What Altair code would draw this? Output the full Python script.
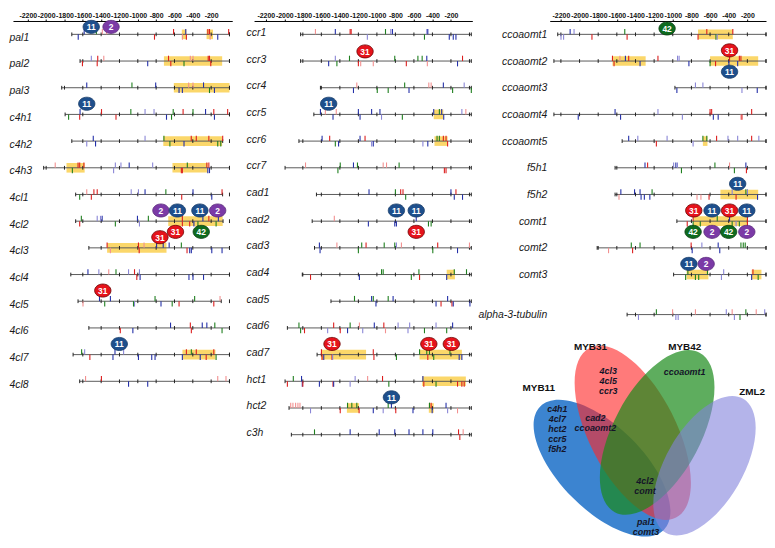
import altair as alt
import pandas as pd

# ---------------- data ----------------
AXIS_VALUES = [-2200, -2000, -1800, -1600, -1400, -1200, -1000, -800, -600, -400, -200]

GENES_1 = ["pal1", "pal2", "pal3", "c4h1", "c4h2", "c4h3", "4cl1", "4cl2", "4cl3", "4cl4", "4cl5", "4cl6", "4cl7", "4cl8"]
ROWS_1 = [0, 1, 2, 3, 4, 5, 6, 7, 8, 9, 10, 11, 12, 13]
STARTS_1 = [-1720, -1630, -1830, -1793, -1720, -2027, -1678, -1678, -1534, -1731, -1652, -1534, -1706, -1634]
ENDS_1 = [0, 0, 0, 0, -74, 0, -75, -70, 0, 0, -90, 0, 0, 0]

GENES_2 = ["ccr1", "ccr3", "ccr4", "ccr5", "ccr6", "ccr7", "cad1", "cad2", "cad3", "cad4", "cad5", "cad6", "cad7", "hct1", "hct2", "c3h"]
ROWS_2 = [0, 1, 2, 3, 4, 5, 6, 7, 8, 9, 10, 11, 12, 13, 14, 15]
STARTS_2 = [-1824, -1824, -1610, -1681, -1842, -1992, -1653, -1699, -1674, -1806, -1496, -1967, -1646, -1992, -1949, -1924]
ENDS_2 = [20, 20, 20, 20, 20, 20, 20, 20, 20, 20, 20, 20, 20, 20, 20, 20]

GENES_3 = ["ccoaomt1", "ccoaomt2", "ccoaomt3", "ccoaomt4", "ccoaomt5", "f5h1", "f5h2", "comt1", "comt2", "comt3", "alpha-3-tubulin"]
ROWS_3 = [0, 1, 2, 3, 4, 5, 6, 7, 8, 9, 10.5]
STARTS_3 = [-2234, -2275, -977, -2275, -1543, -1619, -1619, -956, -1811, -991, -1490]
ENDS_3 = [0, 0, 0, 0, 0, 0, 0, 0, 0, 0, 0]

# highlighted (yellow) regions: gene, from, to
BOXES_1 = [("pal1", -520, -470), ("pal1", -250, -180), ("pal2", -715, -80), ("pal3", -607, 0),
           ("c4h2", -722, -80), ("c4h3", -1778, -1580), ("c4h3", -622, -236), ("4cl2", -668, -74),
           ("4cl3", -1335, -687), ("4cl7", -513, -153)]
BOXES_2 = [("ccr5", -386, -282), ("ccr6", -378, -236), ("cad4", -246, -157), ("cad7", -1603, -1117),
           ("cad7", -539, -82), ("hct1", -511, -39), ("hct2", -1324, -1192), ("hct2", -439, -386)]
BOXES_3 = [("ccoaomt1", -729, -356), ("ccoaomt2", -1647, -1291), ("ccoaomt2", -600, -84),
           ("ccoaomt5", -677, -628), ("f5h2", -489, -84), ("comt1", -782, -199),
           ("comt3", -852, -618), ("comt3", -154, -49)]

# binding-site badges: gene, position, factor, offset (negative = above)
BADGES_1 = [("pal1", -1508, "11", -0.28), ("pal1", -1292, "2", -0.28), ("c4h1", -1557, "11", -0.4),
            ("4cl2", -748, "2", -0.4), ("4cl2", -568, "11", -0.4), ("4cl2", -323, "11", -0.4),
            ("4cl2", -129, "2", -0.4), ("4cl2", -589, "31", 0.4), ("4cl2", -308, "42", 0.4),
            ("4cl3", -759, "31", -0.4), ("4cl5", -1382, "31", -0.4), ("4cl7", -1202, "11", -0.4)]
BADGES_2 = [("ccr3", -1128, "31", -0.36), ("ccr5", -1521, "11", -0.4), ("cad2", -789, "11", -0.4),
            ("cad2", -575, "11", -0.4), ("cad2", -575, "31", 0.4), ("cad7", -1485, "31", -0.4),
            ("cad7", -439, "31", -0.4), ("cad7", -196, "31", -0.4), ("hct2", -843, "11", -0.4)]
BADGES_3 = [("ccoaomt1", -1061, "42", -0.22), ("ccoaomt2", -391, "31", -0.4), ("ccoaomt2", -391, "11", 0.4),
            ("f5h2", -304, "11", -0.4), ("comt1", -775, "31", -0.4), ("comt1", -579, "11", -0.4),
            ("comt1", -391, "31", -0.4), ("comt1", -206, "11", -0.4), ("comt1", -782, "42", 0.4),
            ("comt1", -579, "2", 0.4), ("comt1", -401, "42", 0.4), ("comt1", -206, "2", 0.4),
            ("comt3", -827, "11", -0.4), ("comt3", -642, "2", -0.4)]

# cis-element marks: gene, position, colour code, up/down
MOTIFS_1 = [
    ("pal1", -1650, "b", "d"), ("pal1", -1585, "b", "u"), ("pal1", -1452, "g", "u"), ("pal1", -1387, "k", "u"),
    ("pal1", -1340, "k", "u"), ("pal1", -818, "r", "d"), ("pal1", -610, "r", "u"), ("pal1", -513, "k", "d"),
    ("pal1", -477, "b", "u"), ("pal1", -470, "r", "d"), ("pal1", -236, "r", "u"), ("pal1", -218, "r", "u"),
    ("pal1", -211, "k", "d"), ("pal1", -128, "b", "d"), ("pal1", -9, "r", "u"),
    ("pal2", -1604, "r", "d"), ("pal2", -1507, "p", "u"), ("pal2", -1443, "r", "d"), ("pal2", -1437, "r", "u"),
    ("pal2", -1371, "k", "u"), ("pal2", -892, "b", "d"), ("pal2", -665, "r", "u"), ("pal2", -640, "r", "d"),
    ("pal2", -496, "g", "d"), ("pal2", -427, "k", "u"), ("pal2", -398, "k", "u"), ("pal2", -232, "r", "u"),
    ("pal2", -218, "r", "u"), ("pal2", -204, "r", "d"),
    ("pal3", -1557, "b", "u"), ("pal3", -1064, "g", "u"), ("pal3", -805, "b", "u"), ("pal3", -550, "b", "d"),
    ("pal3", -514, "b", "d"), ("pal3", -445, "k", "u"), ("pal3", -398, "k", "u"), ("pal3", -283, "b", "u"),
    ("pal3", -218, "g", "d"), ("pal3", -164, "b", "d"),
    ("c4h1", -1755, "g", "d"), ("c4h1", -1634, "r", "d"), ("c4h1", -1630, "b", "u"), ("c4h1", -1396, "r", "u"),
    ("c4h1", -1238, "r", "d"), ("c4h1", -1076, "g", "u"), ("c4h1", -921, "p", "u"), ("c4h1", -823, "p", "u"),
    ("c4h1", -687, "b", "d"), ("c4h1", -632, "g", "d"), ("c4h1", -614, "g", "u"), ("c4h1", -506, "r", "u"),
    ("c4h1", -398, "g", "u"), ("c4h1", -261, "b", "u"), ("c4h1", -171, "r", "u"), ("c4h1", -164, "b", "d"),
    ("c4h1", -20, "r", "u"),
    ("c4h2", -1557, "p", "d"), ("c4h2", -1486, "b", "u"), ("c4h2", -1461, "b", "d"), ("c4h2", -921, "p", "u"),
    ("c4h2", -715, "g", "u"), ("c4h2", -650, "g", "d"), ("c4h2", -496, "b", "d"), ("c4h2", -417, "r", "u"),
    ("c4h2", -362, "r", "u"), ("c4h2", -225, "r", "u"), ("c4h2", -128, "g", "d"), ("c4h2", -95, "g", "d"),
    ("c4h2", -74, "r", "u"),
    ("c4h3", -1901, "k", "u"), ("c4h3", -1714, "g", "d"), ("c4h3", -1652, "r", "u"), ("c4h3", -1634, "r", "u"),
    ("c4h3", -1588, "r", "u"), ("c4h3", -1264, "p", "d"), ("c4h3", -1245, "p", "u"), ("c4h3", -1184, "p", "u"),
    ("c4h3", -1094, "b", "u"), ("c4h3", -838, "p", "u"), ("c4h3", -525, "r", "d"), ("c4h3", -514, "r", "d"),
    ("c4h3", -460, "g", "u"), ("c4h3", -247, "r", "u"), ("c4h3", -225, "r", "u"), ("c4h3", -218, "b", "d"),
    ("c4h3", -236, "b", "d"),
    ("4cl1", -1634, "g", "d"), ("4cl1", -1557, "k", "u"), ("4cl1", -1507, "r", "d"), ("4cl1", -1479, "r", "u"),
    ("4cl1", -1443, "r", "u"), ("4cl1", -1072, "p", "u"), ("4cl1", -993, "p", "u"), ("4cl1", -921, "b", "u"),
    ("4cl1", -694, "g", "u"), ("4cl1", -521, "r", "d"), ("4cl1", -398, "b", "u"), ("4cl1", -193, "b", "d"),
    ("4cl1", -81, "r", "u"),
    ("4cl2", -1634, "r", "d"), ("4cl2", -1616, "g", "u"), ("4cl2", -1443, "p", "u"), ("4cl2", -1407, "p", "u"),
    ("4cl2", -1389, "b", "u"), ("4cl2", -1245, "g", "d"), ("4cl2", -1004, "b", "u"), ("4cl2", -982, "p", "d"),
    ("4cl2", -885, "g", "u"), ("4cl2", -514, "r", "u"), ("4cl2", -514, "r", "d"), ("4cl2", -434, "r", "d"),
    ("4cl2", -388, "b", "d"), ("4cl2", -344, "g", "d"), ("4cl2", -290, "b", "u"), ("4cl2", -225, "r", "u"),
    ("4cl2", -146, "g", "d"), ("4cl2", -121, "b", "u"),
    ("4cl3", -1335, "r", "u"), ("4cl3", -1299, "k", "d"), ("4cl3", -993, "r", "u"), ("4cl3", -985, "r", "d"),
    ("4cl3", -932, "k", "u"), ("4cl3", -795, "b", "u"), ("4cl3", -723, "b", "u"), ("4cl3", -658, "b", "u"),
    ("4cl3", -525, "g", "u"), ("4cl3", -463, "r", "d"), ("4cl3", -434, "b", "d"), ("4cl3", -416, "b", "d"),
    ("4cl3", -193, "b", "d"), ("4cl3", -81, "b", "d"),
    ("4cl4", -1544, "b", "u"), ("4cl4", -1425, "p", "u"), ("4cl4", -1317, "k", "u"), ("4cl4", -1238, "g", "u"),
    ("4cl4", -1101, "p", "u"), ("4cl4", -1036, "r", "u"), ("4cl4", -1011, "r", "d"), ("4cl4", -982, "p", "u"),
    ("4cl4", -975, "b", "d"), ("4cl4", -442, "b", "d"), ("4cl4", -398, "b", "d"), ("4cl4", -283, "b", "d"),
    ("4cl5", -1598, "k", "d"), ("4cl5", -1418, "b", "u"), ("4cl5", -1361, "g", "d"), ("4cl5", -1299, "b", "u"),
    ("4cl5", -1047, "g", "d"), ("4cl5", -1036, "p", "d"), ("4cl5", -812, "g", "u"), ("4cl5", -747, "b", "d"),
    ("4cl5", -625, "g", "d"), ("4cl5", -550, "r", "d"), ("4cl5", -380, "g", "u"), ("4cl5", -171, "r", "d"),
    ("4cl5", -103, "k", "u"),
    ("4cl6", -1191, "r", "d"), ("4cl6", -1054, "b", "d"), ("4cl6", -643, "b", "u"), ("4cl6", -427, "r", "u"),
    ("4cl6", -416, "r", "d"), ("4cl6", -297, "b", "u"), ("4cl6", -247, "b", "u"), ("4cl6", -160, "g", "u"),
    ("4cl6", -81, "g", "d"),
    ("4cl7", -1613, "g", "u"), ("4cl7", -1580, "p", "u"), ("4cl7", -1523, "r", "d"), ("4cl7", -1271, "b", "d"),
    ("4cl7", -1249, "b", "u"), ("4cl7", -1155, "p", "u"), ("4cl7", -993, "b", "d"), ("4cl7", -848, "b", "d"),
    ("4cl7", -812, "b", "d"), ("4cl7", -514, "b", "d"), ("4cl7", -470, "r", "u"), ("4cl7", -416, "g", "u"),
    ("4cl7", -362, "r", "u"), ("4cl7", -319, "b", "d"), ("4cl7", -254, "r", "d"), ("4cl7", -171, "r", "u"),
    ("4cl7", -146, "g", "d"),
    ("4cl8", -1570, "k", "u"), ("4cl8", -1397, "r", "u"), ("4cl8", -1101, "b", "d"), ("4cl8", -892, "b", "d"),
    ("4cl8", -128, "k", "u"), ("4cl8", -38, "k", "u"),
]
MOTIFS_2 = [
    ("ccr1", -1664, "k", "u"), ("ccr1", -1449, "b", "u"), ("ccr1", -1289, "r", "u"), ("ccr1", -1278, "r", "u"),
    ("ccr1", -1103, "p", "d"), ("ccr1", -907, "g", "u"), ("ccr1", -850, "p", "u"), ("ccr1", -832, "b", "u"),
    ("ccr1", -486, "g", "d"), ("ccr1", -461, "p", "u"), ("ccr1", -450, "b", "u"), ("ccr1", -218, "b", "d"),
    ("ccr1", -175, "b", "d"), ("ccr1", -146, "b", "d"),
    ("ccr3", -1521, "b", "d"), ("ccr3", -1449, "p", "u"), ("ccr3", -1432, "g", "d"), ("ccr3", -1296, "g", "u"),
    ("ccr3", -1200, "r", "d"), ("ccr3", -1175, "k", "d"), ("ccr3", -1039, "k", "d"), ("ccr3", -807, "g", "u"),
    ("ccr3", -682, "r", "d"), ("ccr3", -557, "g", "u"), ("ccr3", -511, "g", "u"), ("ccr3", -461, "b", "u"),
    ("ccr3", -455, "k", "d"), ("ccr3", -129, "b", "d"), ("ccr3", -75, "r", "u"),
    ("ccr4", -1253, "b", "d"), ("ccr4", -1217, "k", "u"), ("ccr4", -996, "g", "d"), ("ccr4", -878, "g", "d"),
    ("ccr4", -700, "g", "u"), ("ccr4", -653, "b", "d"), ("ccr4", -439, "k", "u"), ("ccr4", -414, "k", "u"),
    ("ccr4", -282, "b", "u"), ("ccr4", -182, "g", "d"), ("ccr4", -57, "p", "u"), ("ccr4", 20, "g", "d"),
    ("ccr5", -1610, "b", "u"), ("ccr5", -1557, "k", "u"), ("ccr5", -1474, "b", "d"), ("ccr5", -1439, "k", "u"),
    ("ccr5", -1200, "b", "u"), ("ccr5", -1182, "b", "d"), ("ccr5", -1057, "b", "u"), ("ccr5", -967, "b", "u"),
    ("ccr5", -950, "p", "d"), ("ccr5", -725, "g", "d"), ("ccr5", -386, "b", "u"), ("ccr5", -325, "g", "u"),
    ("ccr5", -300, "b", "u"), ("ccr5", -278, "b", "d"), ("ccr5", -82, "p", "u"), ("ccr5", -39, "k", "u"),
    ("ccr6", -1592, "b", "u"), ("ccr6", -1510, "r", "u"), ("ccr6", -1449, "g", "d"), ("ccr6", -1414, "b", "d"),
    ("ccr6", -1182, "b", "u"), ("ccr6", -1128, "r", "u"), ("ccr6", -1057, "p", "d"), ("ccr6", -1039, "b", "d"),
    ("ccr6", -503, "p", "d"), ("ccr6", -450, "b", "d"), ("ccr6", -350, "g", "u"), ("ccr6", -325, "g", "u"),
    ("ccr6", -282, "r", "u"), ("ccr6", -253, "r", "u"), ("ccr6", -236, "r", "d"),
    ("ccr7", -1771, "k", "u"), ("ccr7", -1421, "g", "d"), ("ccr7", -1396, "g", "u"), ("ccr7", -1253, "b", "u"),
    ("ccr7", -1210, "g", "u"), ("ccr7", -932, "k", "u"), ("ccr7", -896, "k", "u"), ("ccr7", -760, "g", "u"),
    ("ccr7", -271, "r", "d"), ("ccr7", -253, "r", "d"),
    ("cad1", -1085, "b", "u"), ("cad1", -800, "g", "u"), ("cad1", -743, "r", "u"), ("cad1", -718, "r", "u"),
    ("cad1", -689, "g", "d"), ("cad1", -200, "b", "u"), ("cad1", -164, "b", "d"), ("cad1", -146, "r", "u"),
    ("cad1", -75, "b", "d"),
    ("cad2", -1460, "k", "u"), ("cad2", -1092, "b", "d"), ("cad2", -807, "b", "d"), ("cad2", -789, "b", "d"),
    ("cad2", -575, "b", "u"), ("cad2", -443, "g", "d"), ("cad2", -414, "g", "d"),
    ("cad3", -1621, "b", "u"), ("cad3", -1614, "b", "d"), ("cad3", -1432, "k", "u"), ("cad3", -1200, "g", "d"),
    ("cad3", -1164, "g", "u"), ("cad3", -1117, "r", "u"), ("cad3", -921, "g", "u"), ("cad3", -807, "g", "u"),
    ("cad3", -789, "p", "u"), ("cad3", -735, "k", "u"), ("cad3", -396, "g", "d"), ("cad3", -343, "r", "u"),
    ("cad3", -129, "b", "d"), ("cad3", 0, "k", "u"),
    ("cad4", -1717, "r", "d"), ("cad4", -1189, "b", "d"), ("cad4", -950, "g", "u"), ("cad4", -932, "g", "u"),
    ("cad4", -628, "g", "d"), ("cad4", -546, "g", "u"), ("cad4", -539, "r", "d"), ("cad4", -246, "b", "d"),
    ("cad4", -164, "g", "u"), ("cad4", -32, "g", "u"),
    ("cad5", -1242, "g", "u"), ("cad5", -1057, "b", "u"), ("cad5", -1039, "g", "u"), ("cad5", -1010, "b", "d"),
    ("cad5", -878, "g", "u"), ("cad5", -825, "b", "u"), ("cad5", -361, "b", "d"), ("cad5", -307, "r", "d"),
    ("cad5", -236, "b", "u"), ("cad5", -189, "r", "d"), ("cad5", -175, "b", "d"), ("cad5", 5, "b", "d"),
    ("cad6", -1842, "g", "u"), ("cad6", -1824, "g", "d"), ("cad6", -1782, "r", "d"), ("cad6", -1532, "p", "d"),
    ("cad6", -1467, "r", "u"), ("cad6", -1396, "r", "d"), ("cad6", -1317, "b", "d"), ("cad6", -1289, "g", "u"),
    ("cad6", -1189, "k", "u"), ("cad6", -1153, "p", "d"), ("cad6", -1028, "b", "u"), ("cad6", -925, "r", "u"),
    ("cad6", -907, "k", "d"), ("cad6", -771, "p", "u"), ("cad6", -664, "p", "d"), ("cad6", -646, "p", "u"),
    ("cad6", -486, "g", "d"), ("cad6", -361, "p", "u"), ("cad6", -246, "g", "d"), ("cad6", -182, "b", "u"),
    ("cad7", -1599, "r", "u"), ("cad7", -1592, "r", "d"), ("cad7", -1574, "b", "d"), ("cad7", -1485, "r", "d"),
    ("cad7", -1478, "p", "d"), ("cad7", -1039, "r", "u"), ("cad7", -1032, "r", "d"), ("cad7", -789, "g", "d"),
    ("cad7", -539, "g", "u"), ("cad7", -461, "g", "u"), ("cad7", -450, "r", "d"), ("cad7", -432, "g", "u"),
    ("cad7", -386, "g", "d"), ("cad7", -211, "g", "u"), ("cad7", -111, "b", "d"), ("cad7", -82, "b", "d"),
    ("hct1", -1967, "r", "d"), ("hct1", -1903, "g", "u"), ("hct1", -1814, "b", "u"), ("hct1", -1806, "b", "d"),
    ("hct1", -1800, "r", "d"), ("hct1", -1621, "b", "d"), ("hct1", -1474, "r", "d"), ("hct1", -1467, "b", "d"),
    ("hct1", -1289, "p", "d"), ("hct1", -1235, "p", "u"), ("hct1", -1100, "k", "u"), ("hct1", -939, "r", "u"),
    ("hct1", -871, "g", "d"), ("hct1", -503, "b", "u"), ("hct1", -493, "r", "d"), ("hct1", -361, "g", "d"),
    ("hct1", -129, "r", "d"), ("hct1", -82, "r", "d"), ("hct1", -57, "r", "d"),
    ("hct2", -1931, "k", "u"), ("hct2", -1907, "k", "u"), ("hct2", -1878, "k", "u"), ("hct2", -1853, "k", "u"),
    ("hct2", -1831, "k", "u"), ("hct2", -1717, "p", "d"), ("hct2", -1396, "r", "d"), ("hct2", -1317, "g", "u"),
    ("hct2", -1271, "g", "u"), ("hct2", -1217, "g", "u"), ("hct2", -1192, "r", "d"), ("hct2", -1039, "b", "d"),
    ("hct2", -932, "p", "d"), ("hct2", -878, "g", "u"), ("hct2", -843, "b", "u"), ("hct2", -796, "r", "d"),
    ("hct2", -610, "b", "d"), ("hct2", -432, "g", "u"), ("hct2", -414, "r", "u"), ("hct2", -403, "b", "d"),
    ("hct2", -253, "b", "u"), ("hct2", -236, "p", "d"), ("hct2", -129, "k", "d"),
    ("c3h", -1674, "g", "u"), ("c3h", -1289, "b", "u"), ("c3h", -975, "b", "u"), ("c3h", -807, "b", "u"),
    ("c3h", -653, "b", "u"), ("c3h", -503, "b", "u"), ("c3h", -396, "b", "u"), ("c3h", -118, "r", "u"),
    ("c3h", -104, "r", "d"), ("c3h", -68, "k", "u"),
]
MOTIFS_3 = [
    ("ccoaomt1", -2199, "p", "d"), ("ccoaomt1", -2171, "p", "d"), ("ccoaomt1", -2101, "b", "u"),
    ("ccoaomt1", -2059, "p", "u"), ("ccoaomt1", -1867, "r", "d"), ("ccoaomt1", -1515, "g", "u"),
    ("ccoaomt1", -1490, "r", "d"), ("ccoaomt1", -1124, "p", "u"), ("ccoaomt1", -729, "r", "d"),
    ("ccoaomt1", -635, "r", "u"), ("ccoaomt1", -537, "g", "d"), ("ccoaomt1", -524, "p", "d"),
    ("ccoaomt1", -356, "r", "u"),
    ("ccoaomt2", -1647, "r", "u"), ("ccoaomt2", -1630, "r", "d"), ("ccoaomt2", -1567, "k", "u"),
    ("ccoaomt2", -1508, "b", "u"), ("ccoaomt2", -1473, "r", "u"), ("ccoaomt2", -1351, "b", "d"),
    ("ccoaomt2", -1159, "r", "u"), ("ccoaomt2", -949, "p", "u"), ("ccoaomt2", -932, "p", "u"),
    ("ccoaomt2", -827, "b", "d"), ("ccoaomt2", -600, "g", "d"), ("ccoaomt2", -541, "r", "d"),
    ("ccoaomt2", -398, "b", "d"), ("ccoaomt2", -391, "r", "u"), ("ccoaomt2", -304, "b", "d"),
    ("ccoaomt2", -286, "r", "u"), ("ccoaomt2", -269, "r", "u"),
    ("ccoaomt3", -956, "b", "d"), ("ccoaomt3", -757, "p", "u"), ("ccoaomt3", -677, "p", "u"),
    ("ccoaomt3", -258, "p", "d"), ("ccoaomt3", -94, "b", "d"),
    ("ccoaomt4", -2014, "b", "d"), ("ccoaomt4", -1619, "b", "u"), ("ccoaomt4", -1560, "b", "d"),
    ("ccoaomt4", -1159, "p", "u"), ("ccoaomt4", -897, "p", "d"), ("ccoaomt4", -600, "r", "u"),
    ("ccoaomt4", -583, "r", "u"), ("ccoaomt4", -565, "b", "d"), ("ccoaomt4", -513, "b", "d"),
    ("ccoaomt4", -269, "k", "d"), ("ccoaomt4", -258, "r", "d"), ("ccoaomt4", -154, "r", "u"),
    ("ccoaomt5", -1473, "b", "u"), ("ccoaomt5", -1375, "p", "u"), ("ccoaomt5", -1176, "r", "d"),
    ("ccoaomt5", -1061, "p", "u"), ("ccoaomt5", -782, "p", "d"), ("ccoaomt5", -677, "g", "u"),
    ("ccoaomt5", -635, "g", "u"), ("ccoaomt5", -530, "r", "u"), ("ccoaomt5", -408, "p", "u"),
    ("ccoaomt5", -304, "p", "u"), ("ccoaomt5", -154, "r", "u"), ("ccoaomt5", -77, "p", "u"),
    ("f5h1", -1298, "b", "u"), ("f5h1", -1270, "r", "u"), ("f5h1", -991, "p", "u"), ("f5h1", -967, "b", "u"),
    ("f5h1", -950, "p", "u"), ("f5h1", -907, "g", "d"), ("f5h1", -548, "g", "u"), ("f5h1", -391, "k", "u"),
    ("f5h1", -339, "g", "d"), ("f5h1", -216, "b", "u"), ("f5h1", -210, "r", "d"),
    ("f5h2", -1577, "k", "d"), ("f5h2", -1557, "b", "u"), ("f5h2", -1410, "b", "u"), ("f5h2", -1351, "b", "u"),
    ("f5h2", -1340, "b", "d"), ("f5h2", -1305, "b", "d"), ("f5h2", -1246, "b", "d"), ("f5h2", -1222, "g", "u"),
    ("f5h2", -740, "k", "d"), ("f5h2", -698, "k", "d"), ("f5h2", -611, "r", "d"), ("f5h2", -363, "p", "u"),
    ("f5h2", -321, "r", "d"), ("f5h2", -216, "g", "u"), ("f5h2", -199, "p", "u"), ("f5h2", -91, "b", "d"),
    ("comt1", -845, "r", "d"), ("comt1", -782, "r", "u"), ("comt1", -782, "g", "d"), ("comt1", -705, "g", "d"),
    ("comt1", -523, "g", "u"), ("comt1", -391, "b", "u"), ("comt1", -363, "g", "d"), ("comt1", -321, "p", "d"),
    ("comt1", -286, "g", "d"), ("comt1", -199, "r", "u"), ("comt1", -199, "r", "d"),
    ("comt2", -1689, "k", "d"), ("comt2", -1445, "g", "u"), ("comt2", -1431, "r", "d"), ("comt2", -1351, "g", "u"),
    ("comt2", -803, "r", "u"), ("comt2", -792, "b", "d"), ("comt2", -688, "p", "u"), ("comt2", -513, "b", "u"),
    ("comt2", -496, "b", "d"), ("comt2", -269, "g", "u"), ("comt2", -244, "g", "u"), ("comt2", -223, "g", "u"),
    ("comt3", -862, "g", "d"), ("comt3", -838, "g", "u"), ("comt3", -757, "g", "d"), ("comt3", -722, "g", "d"),
    ("comt3", -628, "g", "u"), ("comt3", -478, "p", "d"), ("comt3", -454, "p", "u"), ("comt3", -154, "b", "d"),
    ("comt3", -140, "r", "u"), ("comt3", -84, "g", "d"),
    ("alpha-3-tubulin", -1368, "p", "d"), ("alpha-3-tubulin", -1176, "g", "u"), ("alpha-3-tubulin", -1002, "k", "u"),
    ("alpha-3-tubulin", -967, "p", "d"), ("alpha-3-tubulin", -942, "p", "d"), ("alpha-3-tubulin", -757, "k", "u"),
    ("alpha-3-tubulin", -426, "p", "u"), ("alpha-3-tubulin", -363, "k", "u"), ("alpha-3-tubulin", -339, "p", "d"),
    ("alpha-3-tubulin", -279, "g", "d"), ("alpha-3-tubulin", -216, "g", "u"), ("alpha-3-tubulin", -105, "k", "u"),
    ("alpha-3-tubulin", -14, "p", "u"),
]

MOTIF_COLORS = {"b": "#2430a8", "r": "#dc1e1e", "g": "#1f7f1f", "p": "#8a86d6", "k": "#f29090"}
BADGE_FILL = {"11": "#1e4f8c", "2": "#7b3aa6", "31": "#e5131b", "42": "#0f6b1f"}
BADGE_STROKE = {"11": "#163a66", "2": "#5a2a7a", "31": "#6a0000", "42": "#073d10"}

# Venn diagram (pixel units relative to the right panel's plot origin)
VENN_SETS = ["MYB11", "MYB31", "MYB42", "ZML2"]
VENN_CX = [52.7, 83.7, 108.3, 156.0]
VENN_CY = [450.7, 415.0, 414.7, 448.3]
VENN_A = [88, 96, 91, 78]
VENN_B = [42, 44, 44, 39]
VENN_ANGLE = [315, 333, 28, 30]
VENN_FILL = ["#1a6fc8", "#ff2828", "#1a8a1a", "#8282dc"]
VENN_OPACITY = [0.85, 0.62, 0.7, 0.6]
VENN_TITLE_X = [-11, 41, 136, 204]
VENN_TITLE_Y = [370, 329, 329, 374]
VENN_GENES = ["4cl3", "4cl5", "ccr3", "ccoaomt1", "c4h1", "4cl7", "hct2", "ccr5", "f5h2",
              "cad2", "ccoaomt2", "4cl2", "comt", "pal1", "comt3"]
VENN_GENE_X = [59, 59, 59, 136, 7.7, 7.7, 7.7, 7.7, 7.7, 46, 46, 96, 96, 97, 97]
VENN_GENE_Y = [353, 363, 373, 354, 391, 401, 411, 421, 431, 400.5, 410.5, 463.5, 473.5, 505, 515]

FONT = "Liberation Sans"
ROW_PX = 26.9
Y_TOP = -0.5
MOTIF_LEN = 0.2
BADGE_PATH = "M -1 0 A 1 0.8 0 1 1 1 0 A 1 0.8 0 1 1 -1 0 Z"


def panel(genes, rows, starts, ends, motifs, boxes, badges, xdom, height,
          label_align, label_pad, label_off):
    rowmap = dict(zip(genes, rows))
    ydom = [Y_TOP, Y_TOP + height / ROW_PX]
    xs = alt.Scale(domain=xdom, nice=False, zero=False)
    ys = alt.Scale(domain=ydom, reverse=True, nice=False, zero=False)
    lab = "{" + ",".join(f"'{r}':'{g}'" for g, r in zip(genes, rows)) + "}[datum.value]"
    xaxis = alt.Axis(orient="top", values=AXIS_VALUES, labelExpr="'-' + (-datum.value)",
                     labelFont=FONT, labelFontSize=7, labelFontWeight="bold", labelColor="#111",
                     labelPadding=1, tickSize=2, domainColor="#000", tickColor="#000",
                     domainWidth=1, grid=False, title=None, labelFlush=False, labelOverlap=False)
    yaxis = alt.Axis(values=rows, labelExpr=lab, labelFont=FONT, labelFontSize=10.5,
                     labelFontStyle="italic", labelColor="#1a1a1a", labelAlign=label_align,
                     labelPadding=label_pad, labelOffset=label_off, domain=False, ticks=False,
                     tickSize=0, grid=False, title=None, labelFlush=False, labelOverlap=False)

    lines = pd.DataFrame({"gene": genes, "row": rows, "x1": starts, "x2": ends})
    tick_recs = []
    for g, r, s, e in zip(genes, rows, starts, ends):
        for p in list(range(0, s, -200)) + [s, e]:
            tick_recs.append({"row": r, "x1": p, "y1": r - 0.07, "y2": r + 0.07})
    ticks = pd.DataFrame(tick_recs)
    bx = pd.DataFrame([{"x1": a, "x2": b, "y1": rowmap[g] - 0.18, "y2": rowmap[g] + 0.18}
                       for g, a, b in boxes])
    mt = pd.DataFrame([{"x1": p, "y1": rowmap[g],
                        "y2": rowmap[g] + (-MOTIF_LEN if d == "u" else MOTIF_LEN),
                        "c": MOTIF_COLORS[c]} for g, p, c, d in motifs])
    bd = pd.DataFrame([{"x1": p, "y1": rowmap[g] + off, "label": lb,
                        "fill": BADGE_FILL[lb], "stroke": BADGE_STROKE[lb]} for g, p, lb, off in badges])

    X = alt.X("x1:Q", scale=xs, axis=xaxis)
    Y = alt.Y("y1:Q", scale=ys, axis=yaxis)
    Yrow = alt.Y("row:Q", scale=ys, axis=yaxis)

    l_box = alt.Chart(bx).mark_rect(color="#fbd35a", opacity=0.9).encode(x=X, x2="x2:Q", y=Y, y2="y2:Q")
    l_line = alt.Chart(lines).mark_rule(color="#5a5a5a", strokeWidth=1).encode(x=X, x2="x2:Q", y=Yrow)
    l_tick = alt.Chart(ticks).mark_rule(color="#222", strokeWidth=1).encode(x=X, y=Y, y2="y2:Q")
    l_mot = alt.Chart(mt).mark_rule(strokeWidth=1.1).encode(
        x=X, y=Y, y2="y2:Q", color=alt.Color("c:N", scale=None))
    l_badge = alt.Chart(bd).mark_point(shape=BADGE_PATH, size=272, filled=True, opacity=1,
                                       strokeWidth=0.8).encode(
        x=X, y=Y, fill=alt.Fill("fill:N", scale=None), stroke=alt.Stroke("stroke:N", scale=None))
    l_btxt = alt.Chart(bd).mark_text(color="white", font=FONT, fontSize=8.5, fontWeight="bold",
                                     align="center", baseline="middle", dy=0.5).encode(
        x=X, y=Y, text="label:N")
    return alt.layer(l_box, l_line, l_tick, l_mot, l_badge, l_btxt)


P3_H = 518
p1 = panel(GENES_1, ROWS_1, STARTS_1, ENDS_1, MOTIFS_1, BOXES_1, BADGES_1,
           [-2362, 30], 430, "left", 4, 3).properties(width=221, height=430)
p2 = panel(GENES_2, ROWS_2, STARTS_2, ENDS_2, MOTIFS_2, BOXES_2, BADGES_2,
           [-2327, 31], 430, "left", 8, -2).properties(width=220, height=430)
p3_prom = panel(GENES_3, ROWS_3, STARTS_3, ENDS_3, MOTIFS_3, BOXES_3, BADGES_3,
                [-2320, 0], P3_H, "right", 3, 0)

# ---- Venn diagram ----
vx = alt.Scale(domain=[0, 218], nice=False, zero=False)
vy = alt.Scale(domain=[0, P3_H], reverse=True, nice=False, zero=False)
ell = pd.DataFrame({
    "set": VENN_SETS, "x": VENN_CX, "y": VENN_CY,
    "shape": [f"M 0 -1 A {b / a:.3f} 1 0 1 1 0 1 A {b / a:.3f} 1 0 1 1 0 -1 Z" for a, b in zip(VENN_A, VENN_B)],
    "size": [(2 * a) ** 2 for a in VENN_A],
    "angle": VENN_ANGLE, "fill": VENN_FILL, "op": VENN_OPACITY,
})
v_ell = alt.Chart(ell).mark_point(filled=True, strokeWidth=0).encode(
    x=alt.X("x:Q", scale=vx, axis=None), y=alt.Y("y:Q", scale=vy, axis=None),
    shape=alt.Shape("shape:N", scale=None), size=alt.Size("size:Q", scale=None),
    angle=alt.Angle("angle:Q", scale=None), fill=alt.Fill("fill:N", scale=None),
    opacity=alt.Opacity("op:Q", scale=None), order=alt.Order("x:Q"))
titles = pd.DataFrame({"t": VENN_SETS, "x": VENN_TITLE_X, "y": VENN_TITLE_Y})
v_title = alt.Chart(titles).mark_text(font=FONT, fontSize=10, fontWeight="bold", color="#111",
                                      align="center", baseline="middle").encode(
    x=alt.X("x:Q", scale=vx, axis=None), y=alt.Y("y:Q", scale=vy, axis=None), text="t:N")
vg = pd.DataFrame({"t": VENN_GENES, "x": VENN_GENE_X, "y": VENN_GENE_Y})
v_gene = alt.Chart(vg).mark_text(font=FONT, fontSize=9, fontWeight="bold", fontStyle="italic",
                                 color="#141428", align="center", baseline="middle").encode(
    x=alt.X("x:Q", scale=vx, axis=None), y=alt.Y("y:Q", scale=vy, axis=None), text="t:N")
venn = alt.layer(v_ell, v_title, v_gene)

p3 = alt.layer(p3_prom, venn).resolve_scale(x="independent", y="independent").properties(
    width=218, height=P3_H)

chart = alt.hconcat(alt.hconcat(p1, p2, spacing=12), p3, spacing=4).properties(
    padding=0).configure_view(stroke="transparent")

chart.save("out.html", embed_options={"renderer": "svg", "actions": False})
